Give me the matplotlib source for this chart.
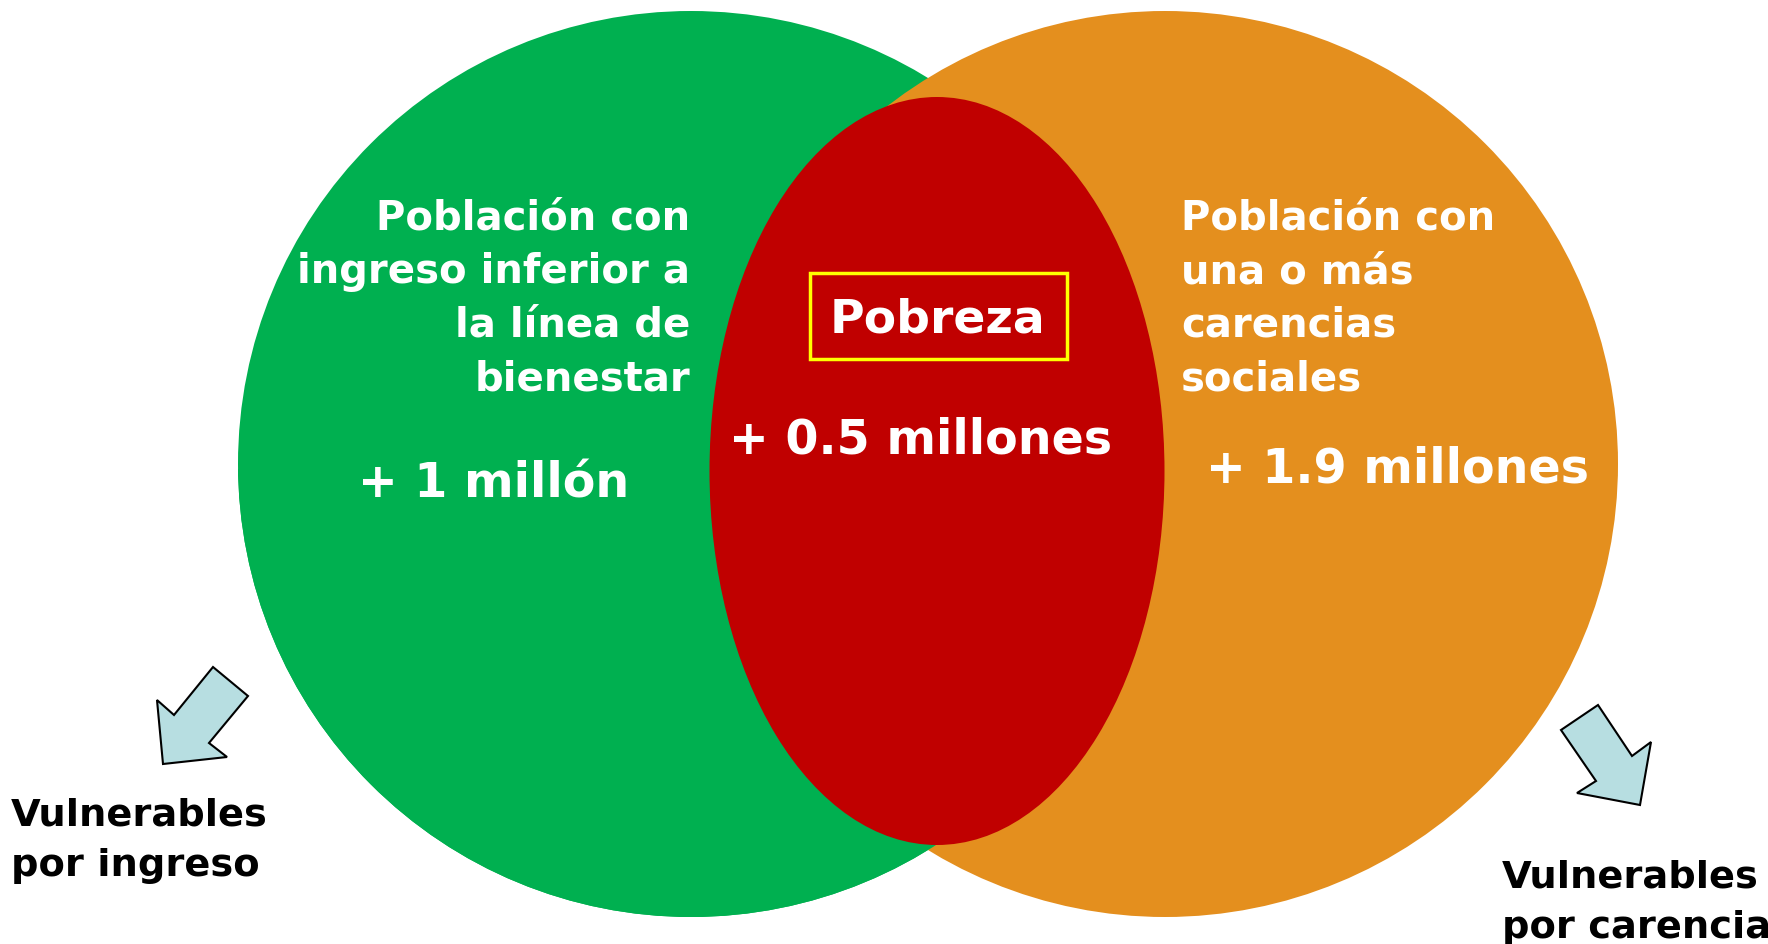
import matplotlib
matplotlib.use("Agg")
import matplotlib.pyplot as plt
from matplotlib.patches import Circle, Ellipse, Rectangle, Polygon

# ---- content ----
left_label = "Población con\ningreso inferior a\nla línea de\nbienestar"
right_label = "Población con\nuna o más\ncarencias\nsociales"
center_label = "Pobreza"
left_value = "+ 1 millón"
center_value = "+ 0.5 millones"
right_value = "+ 1.9 millones"
vuln_left = "Vulnerables\npor ingreso"
vuln_right = "Vulnerables\npor carencia"

GREEN = "#00B050"
ORANGE = "#E48F1E"
RED = "#C00000"
ARROW = "#B7DEE1"
YELLOW = "#FFFF00"

W, H = 1768, 945
fig = plt.figure(figsize=(W / 100, H / 100), dpi=100)
ax = fig.add_axes([0, 0, 1, 1])
ax.set_xlim(0, W)
ax.set_ylim(H, 0)
ax.set_aspect("equal")
ax.axis("off")

R = 453
cy = 465
green = Circle((691, cy), R, facecolor=GREEN, edgecolor="none", zorder=1)
ax.add_patch(green)
orange = Circle((1165, cy), R, facecolor=ORANGE, edgecolor="none", zorder=2)
ax.add_patch(orange)
# green overlaps orange in the lower part of the lens
green2 = Circle((691, cy), R, facecolor=GREEN, edgecolor="none", zorder=3)
ax.add_patch(green2)
clip = Rectangle((0, 470), W, H, transform=ax.transData)
green2.set_clip_path(clip)

red = Ellipse((937, 472), 455, 748, facecolor=RED, edgecolor="none", zorder=4)
ax.add_patch(red)

ax.add_patch(Rectangle((810, 274), 257, 86, facecolor="none", edgecolor=YELLOW,
                       linewidth=2.5, zorder=5))

font = "DejaVu Sans"
ax.text(690, 299, left_label, ha="right", va="center", multialignment="right",
        color="white", fontsize=28.9, fontweight="bold", family=font,
        linespacing=1.45, zorder=6)
ax.text(1181, 299, right_label, ha="left", va="center", multialignment="left",
        color="white", fontsize=28.9, fontweight="bold", family=font,
        linespacing=1.45, zorder=6)
ax.text(937, 320, center_label, ha="center", va="center", color="white",
        fontsize=34, fontweight="bold", family=font, zorder=6)
ax.text(494, 484, left_value, ha="center", va="center", color="white",
        fontsize=34.3, fontweight="bold", family=font, zorder=6)
ax.text(921, 440, center_value, ha="center", va="center", color="white",
        fontsize=34.3, fontweight="bold", family=font, zorder=6)
ax.text(1398, 469, right_value, ha="center", va="center", color="white",
        fontsize=34.3, fontweight="bold", family=font, zorder=6)

ax.text(11, 841, vuln_left, ha="left", va="center", color="black",
        fontsize=27.6, fontweight="bold", family=font, linespacing=1.52, zorder=6)
ax.text(1502, 903, vuln_right, ha="left", va="center", color="black",
        fontsize=27.6, fontweight="bold", family=font, linespacing=1.52, zorder=6)

arrow_l = [(213, 668), (248, 697), (209, 744), (227, 758), (163, 765), (157, 701), (174, 716)]
arrow_r = [(1561, 731), (1598, 706), (1632, 757), (1651, 743), (1640, 806), (1577, 794), (1596, 782)]
for pts in (arrow_l, arrow_r):
    ax.add_patch(Polygon(pts, closed=True, facecolor=ARROW, edgecolor="black",
                         linewidth=1.5, zorder=6))

fig.savefig("out.png", dpi=100)
